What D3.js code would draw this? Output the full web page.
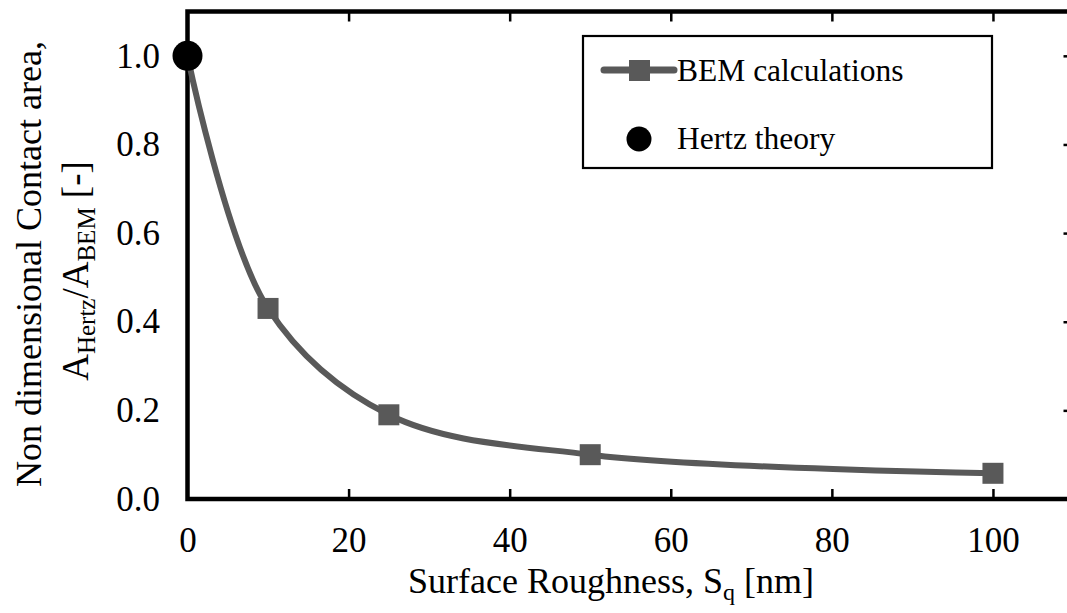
<!DOCTYPE html>
<html>
<head>
<meta charset="utf-8">
<script src="https://cdn.jsdelivr.net/npm/d3@7/dist/d3.min.js"></script>
<style>
  html, body { margin: 0; padding: 0; background: #fff; }
  svg { display: block; font-family: "Liberation Serif", "Times New Roman", serif; }
</style>
</head>
<body>
<svg id="chart" width="1067" height="613"></svg>
<script>
// ---- data ----
const roughness = [0, 10, 25, 50, 100];          // Sq [nm]
const bemValues = [1.0, 0.43, 0.19, 0.10, 0.058];  // A_Hertz / A_BEM
const hertzX = [0];
const hertzY = [1.0];
const xTicks = [0, 20, 40, 60, 80, 100];
const yTicks = [0.0, 0.2, 0.4, 0.6, 0.8, 1.0];
const seriesNames = ["BEM calculations", "Hertz theory"];

// ---- layout ----
const svg = d3.select("#chart");
const x = d3.scaleLinear().domain([0, 110]).range([187.5, 1073.5]);
const y = d3.scaleLinear().domain([0, 1.1]).range([499, 11.5]);
const gray = "#595959";

// axes
const gx = svg.append("g").attr("transform", `translate(0,${y(0)})`)
  .call(d3.axisBottom(x).tickValues(xTicks).tickSizeInner(-10).tickSizeOuter(0).tickPadding(28).tickFormat(d3.format("d")));
gx.select(".domain").remove();
gx.selectAll("line").attr("stroke", "#000").attr("stroke-width", 2.5);
gx.selectAll("text").attr("font-size", 35).attr("fill", "#000").attr("font-family", "Liberation Serif");
gx.selectAll(".tick").filter(d => d === 0).select("line").remove();

const gt = svg.append("g").attr("transform", `translate(0,${y(1.1)})`)
  .call(d3.axisTop(x).tickValues(xTicks.slice(1)).tickSizeInner(-10).tickSizeOuter(0).tickFormat(""));
gt.select(".domain").remove();
gt.selectAll("line").attr("stroke", "#000").attr("stroke-width", 2.5);

const gy = svg.append("g").attr("transform", `translate(${x(0)},0)`)
  .call(d3.axisLeft(y).tickValues(yTicks).tickSize(0).tickPadding(27.5).tickFormat(d3.format(".1f")));
gy.select(".domain").remove();
gy.selectAll("text").attr("font-size", 35).attr("fill", "#000").attr("font-family", "Liberation Serif");

const gr = svg.append("g").attr("transform", `translate(${x(110)},0)`)
  .call(d3.axisRight(y).tickValues(yTicks.slice(1)).tickSizeInner(-10).tickSizeOuter(0).tickFormat(""));
gr.select(".domain").remove();
gr.selectAll("line").attr("stroke", "#000").attr("stroke-width", 2.5);

// frame
svg.append("rect")
  .attr("x", x(0)).attr("y", y(1.1))
  .attr("width", x(110) - x(0)).attr("height", y(0) - y(1.1))
  .attr("fill", "none").attr("stroke", "#000").attr("stroke-width", 4.5);

// BEM line
const pts = roughness.map((r, i) => [r, bemValues[i]]);
const line = d3.line().x(d => x(d[0])).y(d => y(d[1])).curve(d3.curveCatmullRom.alpha(0.5));
svg.append("path").datum(pts).attr("d", line)
  .attr("fill", "none").attr("stroke", gray).attr("stroke-width", 6)
  .attr("stroke-linecap", "round").attr("stroke-linejoin", "round");

const ms = 21;
svg.selectAll("rect.bem").data(pts.slice(1)).enter().append("rect")
  .attr("class", "bem")
  .attr("x", d => x(d[0]) - ms / 2).attr("y", d => y(d[1]) - ms / 2)
  .attr("width", ms).attr("height", ms).attr("fill", gray);

// Hertz point
svg.selectAll("circle.hertz").data(hertzX.map((v, i) => [v, hertzY[i]])).enter().append("circle")
  .attr("class", "hertz")
  .attr("cx", d => x(d[0])).attr("cy", d => y(d[1])).attr("r", 15).attr("fill", "#000");

// legend
const lg = svg.append("g");
lg.append("rect").attr("x", 583).attr("y", 36).attr("width", 409).attr("height", 132)
  .attr("fill", "#fff").attr("stroke", "#000").attr("stroke-width", 2.2);
lg.append("line").attr("x1", 604).attr("x2", 674).attr("y1", 70).attr("y2", 70)
  .attr("stroke", gray).attr("stroke-width", 7).attr("stroke-linecap", "round");
lg.append("rect").attr("x", 629).attr("y", 60).attr("width", 21).attr("height", 21).attr("fill", gray);
lg.append("circle").attr("cx", 639).attr("cy", 139).attr("r", 12.5).attr("fill", "#000");
lg.append("text").attr("x", 677).attr("y", 81).attr("font-size", 31.5).text(seriesNames[0]);
lg.append("text").attr("x", 677).attr("y", 149).attr("font-size", 31.5).text(seriesNames[1]);

// x title
const xt = svg.append("text").attr("x", 611).attr("y", 593).attr("text-anchor", "middle").attr("font-size", 36);
xt.append("tspan").text("Surface Roughness, S");
xt.append("tspan").attr("font-size", 24).attr("dy", 7).text("q");
xt.append("tspan").attr("dy", -7).text(" [nm]");

// y title
const yt = svg.append("g").attr("transform", "rotate(-90)");
yt.append("text").attr("x", -264).attr("y", 41).attr("text-anchor", "middle").attr("font-size", 36)
  .text("Non dimensional Contact area,");
const yt2 = yt.append("text").attr("x", -271).attr("y", 88).attr("text-anchor", "middle").attr("font-size", 37);
yt2.append("tspan").text("A");
yt2.append("tspan").attr("font-size", 25).attr("dy", 7).text("Hertz");
yt2.append("tspan").attr("dy", -7).text("/A");
yt2.append("tspan").attr("font-size", 25).attr("dy", 7).text("BEM");
yt2.append("tspan").attr("dy", -7).text(" [-]");
</script>
</body>
</html>
